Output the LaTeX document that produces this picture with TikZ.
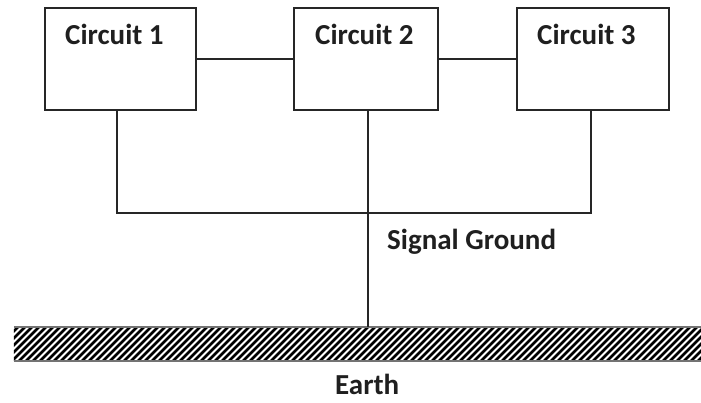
\documentclass[tikz,border=0pt]{standalone}
\usepackage{fontspec}
\setmainfont{Carlito}
\begin{document}
\begin{tikzpicture}[x=1pt,y=-1pt,
  box/.style={draw=black!85, line width=2pt, minimum height=102pt, inner sep=0pt, fill=white},
  wire/.style={draw=black!85, line width=1.6pt},
  lbl/.style={font=\fontsize{29}{31}\selectfont\bfseries, text=black!88, inner sep=0pt, anchor=base west},
  hatch/.style={draw=black, line width=2.5pt},
  edge/.style={draw=black!55, line width=1.5pt}]
\useasboundingbox[fill=white] (0,0) rectangle (701,403);
% boxes
\node[box, minimum width=151pt] (c1) at (120.5,59) {};
\node[box, minimum width=144pt] (c2) at (366,59) {};
\node[box, minimum width=152pt] (c3) at (593,59) {};
\node[lbl] (t1) at (65,45) {Circuit 1};
\node[lbl] (t2) at (315,45) {Circuit 2};
\node[lbl] (t3) at (537,45) {Circuit 3};
% earth
\node[minimum width=687pt, minimum height=34pt, inner sep=0pt] (earth) at (357.5,344) {};
\begin{scope}
  \clip (earth.south west) rectangle (earth.north east);
  \foreach \i in {-30,-23,...,710} \draw[hatch] (\i,361) -- ++(34,-34);
\end{scope}
\draw[edge] (earth.north west) -- (earth.north east);
\draw[edge] (earth.south west) -- (earth.south east);
% wires
\draw[wire] (c1.east) -- (c2.west);
\draw[wire] (c2.east) -- (c3.west);
\coordinate (g1) at (117,213);
\coordinate (g2) at (368,213);
\coordinate (g3) at (591,213);
\draw[wire] (c1.south -| g1) -- (g1) -- (g3) -- (c3.south -| g3);
\draw[wire] (c2.south -| g2) -- (g2) -- (earth.north -| g2);
\node[lbl] (sg) at (387,250) {Signal Ground};
\node[lbl] (ea) at (335,394) {Earth};
\end{tikzpicture}
\end{document}
